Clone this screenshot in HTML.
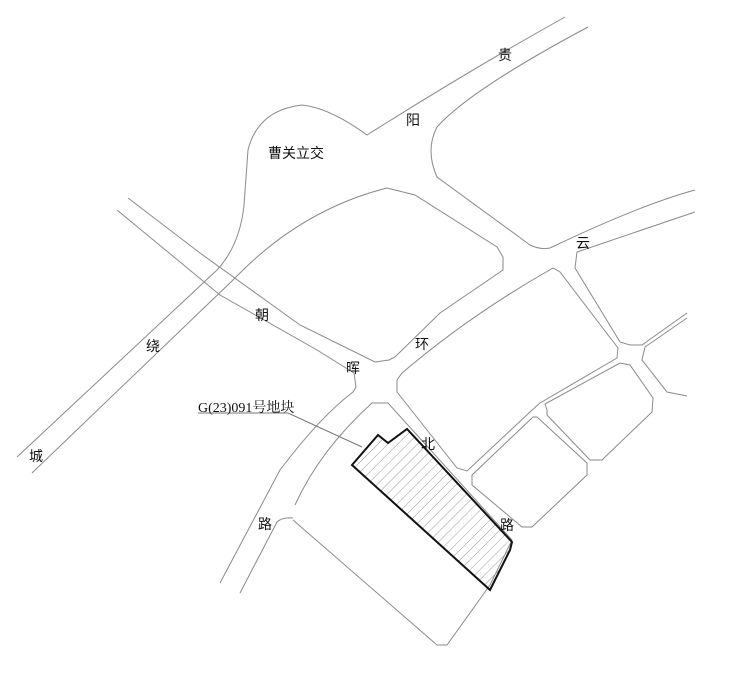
<!DOCTYPE html>
<html><head><meta charset="utf-8"><style>
html,body{margin:0;padding:0;background:#fff;}
svg{display:block;}
text{font-family:"Liberation Sans","Noto Sans CJK SC",sans-serif;font-size:14px;fill:#111;}
</style></head><body>
<svg width="740" height="673" viewBox="0 0 740 673" xmlns="http://www.w3.org/2000/svg">
<defs>
<pattern id="h" patternUnits="userSpaceOnUse" width="7" height="7" patternTransform="rotate(45)">
<line x1="0" y1="0" x2="0" y2="7" stroke="#999" stroke-width="1"/>
</pattern>
</defs>
<g fill="none" stroke="#8a8a8a" stroke-width="1">
<path d="M565,17 Q470,70 367,135 Q330,108 302,105 Q258,110 248,150 L244,205 Q240,245 217,270 L17,457"/>
<path d="M588,27 Q470,90 437,127 Q425,150 437,177 L530,245 Q540,250 550,248 Q640,205 695,190"/>
<path d="M32,473 L233,280 Q300,210 387,188 L415,195 L497,247 L503,257 L503,270 L440,313 L395,357 L389,360 L375,362 L300,325 L200,253 L128,198"/>
<path d="M117,210 L220,295 L317,350 L354,373 L356,387 L353,392 Q320,417 280,470 L220,583"/>
<path d="M240,593 L277,522 Q282,517 293,518"/>
<path d="M295,505 Q320,450 372,403 L388,403 L512,540 L490,585 L447,645 L437,645 L293,520"/>
<path d="M397,380 L397,392 L457,468 L467,471 L530,412 L540,403 L617,358 L618,348 L560,272 L553,268 Q470,315 402,373 Z"/>
<path d="M695,212 L577,252 L575,268 L620,342 L630,345 L642,345 L687,313"/>
<path d="M687,318 L645,347 L642,360 L667,392 L687,396"/>
<path d="M545,404 L547,410 L547,415 L590,460 L602,460 L652,412 L653,398 L630,365 L620,363 Z"/>
<path d="M537,417 L533,417 L472,475 L472,485 L522,527 L532,527 L587,475 L587,463 Z"/>
</g>
<polygon points="352,465 378,435 388,443 407,429 512,542 510,550 490,590" fill="url(#h)" stroke="#111" stroke-width="2"/>
<polyline points="198,413 288,413 362,447" fill="none" stroke="#777" stroke-width="1"/>
<text x="198" y="412" style="font-family:'Liberation Serif','Noto Serif CJK SC',serif;font-size:14px">G(23)091号地块</text>
<text x="498" y="60">贵</text>
<text x="406" y="125">阳</text>
<text x="268" y="158">曹关立交</text>
<text x="576" y="248">云</text>
<text x="255" y="320">朝</text>
<text x="146" y="351">绕</text>
<text x="415" y="349">环</text>
<text x="346" y="373">晖</text>
<text x="29" y="461">城</text>
<text x="421" y="449">北</text>
<text x="500" y="530">路</text>
<text x="258" y="529">路</text>
</svg>
</body></html>
